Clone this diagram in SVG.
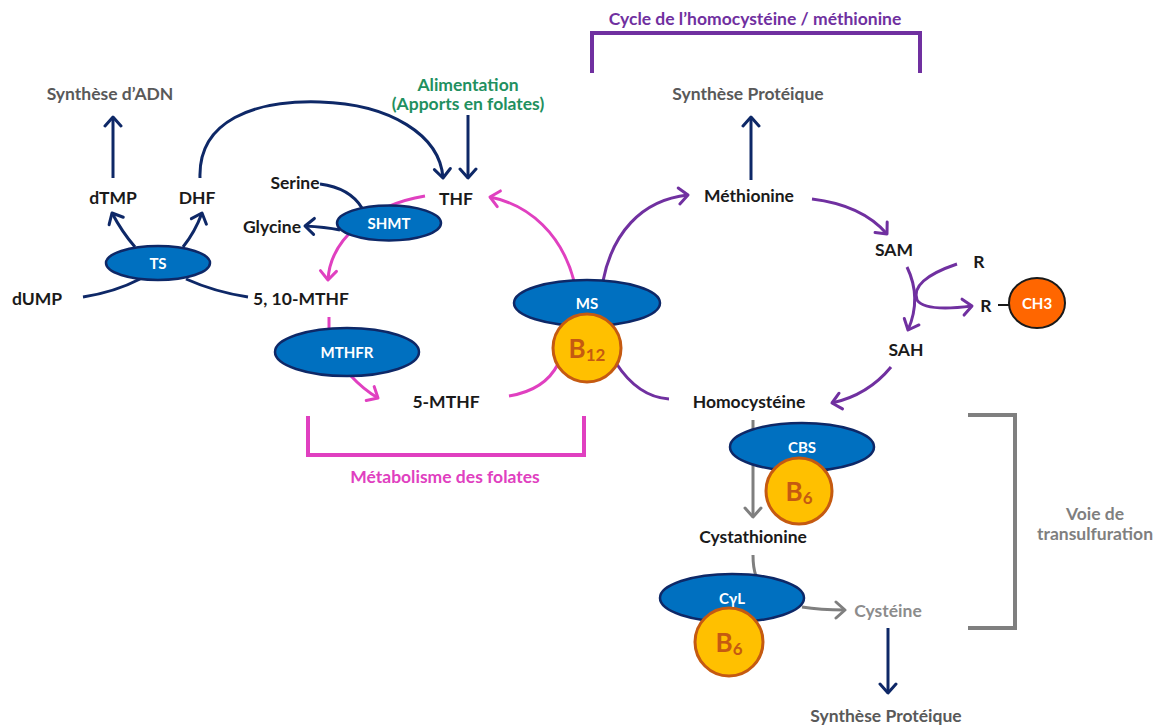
<svg xmlns="http://www.w3.org/2000/svg" width="1167" height="725" viewBox="0 0 1167 725">
<defs>
<style>
text{font-family:Lato,"Liberation Sans",sans-serif;font-weight:bold;text-anchor:middle;dominant-baseline:central}
.lbl{font-size:17.5px;fill:#1a1a1a}
.syn{font-size:17.5px;fill:#595959}
.t17{font-size:17.5px}
.enz{font-size:15px;fill:#ffffff}
.navy{fill:none;stroke:#0E2867;stroke-width:3}
.pink{fill:none;stroke:#E040C0;stroke-width:3}
.purp{fill:none;stroke:#7030A0;stroke-width:3}
.gray{fill:none;stroke:#7F7F7F;stroke-width:3}
.ell{fill:#0070C0;stroke:#0E2867;stroke-width:2.5}
.vit{fill:#FFC000;stroke:#C55A11;stroke-width:3}
.vt{font-size:26px;fill:#C55A11}
.vs{font-size:17px}
</style>
<marker id="mN" markerUnits="userSpaceOnUse" viewBox="-12 -11 14 22" refX="0" refY="0" markerWidth="14" markerHeight="22" orient="auto"><path d="M-9,-8 L0,0 L-9,8" fill="none" stroke="#0E2867" stroke-width="3" stroke-linecap="round" stroke-linejoin="round"/></marker>
<marker id="mP" markerUnits="userSpaceOnUse" viewBox="-12 -11 14 22" refX="0" refY="0" markerWidth="14" markerHeight="22" orient="auto"><path d="M-9,-8 L0,0 L-9,8" fill="none" stroke="#E040C0" stroke-width="3" stroke-linecap="round" stroke-linejoin="round"/></marker>
<marker id="mV" markerUnits="userSpaceOnUse" viewBox="-12 -11 14 22" refX="0" refY="0" markerWidth="14" markerHeight="22" orient="auto"><path d="M-9,-8 L0,0 L-9,8" fill="none" stroke="#7030A0" stroke-width="3" stroke-linecap="round" stroke-linejoin="round"/></marker>
<marker id="mG" markerUnits="userSpaceOnUse" viewBox="-12 -11 14 22" refX="0" refY="0" markerWidth="14" markerHeight="22" orient="auto"><path d="M-9,-8 L0,0 L-9,8" fill="none" stroke="#7F7F7F" stroke-width="3" stroke-linecap="round" stroke-linejoin="round"/></marker>
</defs>
<rect width="1167" height="725" fill="#ffffff"/>

<g id="brackets">
<path d="M592,73 L592,33 L920,33 L920,73" fill="none" stroke="#7030A0" stroke-width="4"/>
<path d="M308,416 L308,455 L584,455 L584,416" fill="none" stroke="#E040C0" stroke-width="4"/>
<path d="M968,415 L1015,415 L1015,628 L968,628" fill="none" stroke="#7F7F7F" stroke-width="4"/>
</g>

<g id="connectors">
<path class="navy" d="M113,178 L113,117" marker-end="url(#mN)"/>
<path class="navy" d="M135,247 Q122,232 112,213" marker-end="url(#mN)"/>
<path class="navy" d="M183,247 Q195,232 202,213" marker-end="url(#mN)"/>
<path class="navy" d="M83,297 Q115,292 140,279"/>
<path class="navy" d="M186,279 Q215,292 248,297"/>
<path class="navy" d="M200,178 C198,120 255,100 320,102 C390,104 440,135 443,178" marker-end="url(#mN)"/>
<path class="navy" d="M468,115 L468,178" marker-end="url(#mN)"/>
<path class="navy" d="M320,184 Q350,188 362,208"/>
<path class="navy" d="M340,230 Q325,227 305,226" marker-end="url(#mN)"/>
<path class="navy" d="M751,180 L751,117" marker-end="url(#mN)"/>
<path class="navy" d="M888,628 L888,693" marker-end="url(#mN)"/>

<path class="pink" d="M425,196 C370,205 330,240 328,280" marker-end="url(#mP)"/>
<path class="pink" d="M329,317 L329,330"/>
<path class="pink" d="M350,375 Q364,390 378,398" marker-end="url(#mP)"/>
<path class="pink" d="M509,396 Q545,390 558,364"/>
<path class="pink" d="M574,281 C562,235 530,205 490,197" marker-end="url(#mP)"/>

<path class="purp" d="M603,281 C612,235 640,200 688,195" marker-end="url(#mV)"/>
<path class="purp" d="M616,363 Q638,397 669,399"/>
<path class="purp" d="M812,199 Q862,205 887,234" marker-end="url(#mV)"/>
<path class="purp" d="M907,267 Q922,298 908,330" marker-end="url(#mV)"/>
<path class="purp" d="M957,264 Q910,280 917,300 Q925,312 972,306" marker-end="url(#mV)"/>
<path class="purp" d="M891,367 Q868,395 832,403" marker-end="url(#mV)"/>

<path class="gray" d="M753,420 L753,517" marker-end="url(#mG)"/>
<path class="gray" d="M753,555 Q753,568 756,576"/>
<path class="gray" d="M802,607 Q820,610 845,610" marker-end="url(#mG)"/>
<path d="M998,305 L1010,305" stroke="#1a1a1a" stroke-width="2"/>
</g>

<g id="titles">
<text class="t17" x="755" y="18" style="fill:#7030A0">Cycle de l’homocystéine / méthionine</text>
<text class="t17" x="445" y="476" style="fill:#E040C0">Métabolisme des folates</text>
<text class="t17" x="1095" y="513" style="fill:#7F7F7F">Voie de</text>
<text class="t17" x="1095" y="533" style="fill:#7F7F7F">transulfuration</text>
</g>

<g id="n-synADN"><text class="syn" x="110" y="93">Synthèse d’ADN</text></g>
<g id="n-alim"><text class="t17" x="468" y="84" style="fill:#1F9060">Alimentation</text><text class="t17" x="468" y="103" style="fill:#1F9060">(Apports en folates)</text></g>
<g id="n-synProt1"><text class="syn" x="748" y="93">Synthèse Protéique</text></g>
<g id="n-dTMP"><text class="lbl" x="113" y="197">dTMP</text></g>
<g id="n-DHF"><text class="lbl" x="197" y="197">DHF</text></g>
<g id="n-THF"><text class="lbl" x="456" y="198">THF</text></g>
<g id="n-serine"><text class="lbl" x="295" y="182">Serine</text></g>
<g id="n-glycine"><text class="lbl" x="272" y="226">Glycine</text></g>
<g id="n-dUMP"><text class="lbl" x="37" y="298">dUMP</text></g>
<g id="n-510MTHF"><text class="lbl" x="301" y="298">5, 10-MTHF</text></g>
<g id="n-5MTHF"><text class="lbl" x="446" y="401">5-MTHF</text></g>
<g id="n-methionine"><text class="lbl" x="749" y="195">Méthionine</text></g>
<g id="n-SAM"><text class="lbl" x="894" y="249">SAM</text></g>
<g id="n-SAH"><text class="lbl" x="906" y="349">SAH</text></g>
<g id="n-R1"><text class="lbl" x="979" y="261">R</text></g>
<g id="n-R2"><text class="lbl" x="986" y="305">R</text></g>
<g id="n-CH3"><ellipse cx="1037" cy="303" rx="28" ry="25" fill="#FF6600" stroke="#1a1a1a" stroke-width="2"/><text x="1037" y="303" style="font-size:15px;fill:#ffffff">CH3</text></g>
<g id="n-homocysteine"><text class="lbl" x="749" y="401">Homocystéine</text></g>
<g id="n-cystathionine"><text class="lbl" x="753" y="536">Cystathionine</text></g>
<g id="n-cysteine"><text class="t17" x="888" y="610" style="fill:#8C8C8C">Cystéine</text></g>
<g id="n-synProt2"><text class="syn" x="886" y="715">Synthèse Protéique</text></g>

<g id="n-TS"><ellipse class="ell" cx="158" cy="263" rx="52" ry="17"/><text class="enz" x="158" y="263">TS</text></g>
<g id="n-SHMT"><ellipse class="ell" cx="389" cy="223" rx="52" ry="17.5"/><text class="enz" x="389" y="223">SHMT</text></g>
<g id="n-MTHFR"><ellipse class="ell" cx="347" cy="352" rx="72" ry="24"/><text class="enz" x="347" y="352">MTHFR</text></g>
<g id="n-MS"><ellipse class="ell" cx="587" cy="303" rx="73" ry="23"/><text class="enz" x="587" y="303">MS</text><circle class="vit" cx="587" cy="348" r="34"/><text class="vt" x="587" y="348">B<tspan class="vs" dy="6">12</tspan></text></g>
<g id="n-CBS"><ellipse class="ell" cx="802" cy="447" rx="72" ry="24"/><text class="enz" x="802" y="447">CBS</text><circle class="vit" cx="799" cy="491" r="33"/><text class="vt" x="799" y="491">B<tspan class="vs" dy="6">6</tspan></text></g>
<g id="n-CyL"><ellipse class="ell" cx="732" cy="598" rx="72" ry="24"/><text class="enz" x="732" y="598">CγL</text><circle class="vit" cx="729" cy="642" r="34"/><text class="vt" x="729" y="642">B<tspan class="vs" dy="6">6</tspan></text></g>
</svg>
